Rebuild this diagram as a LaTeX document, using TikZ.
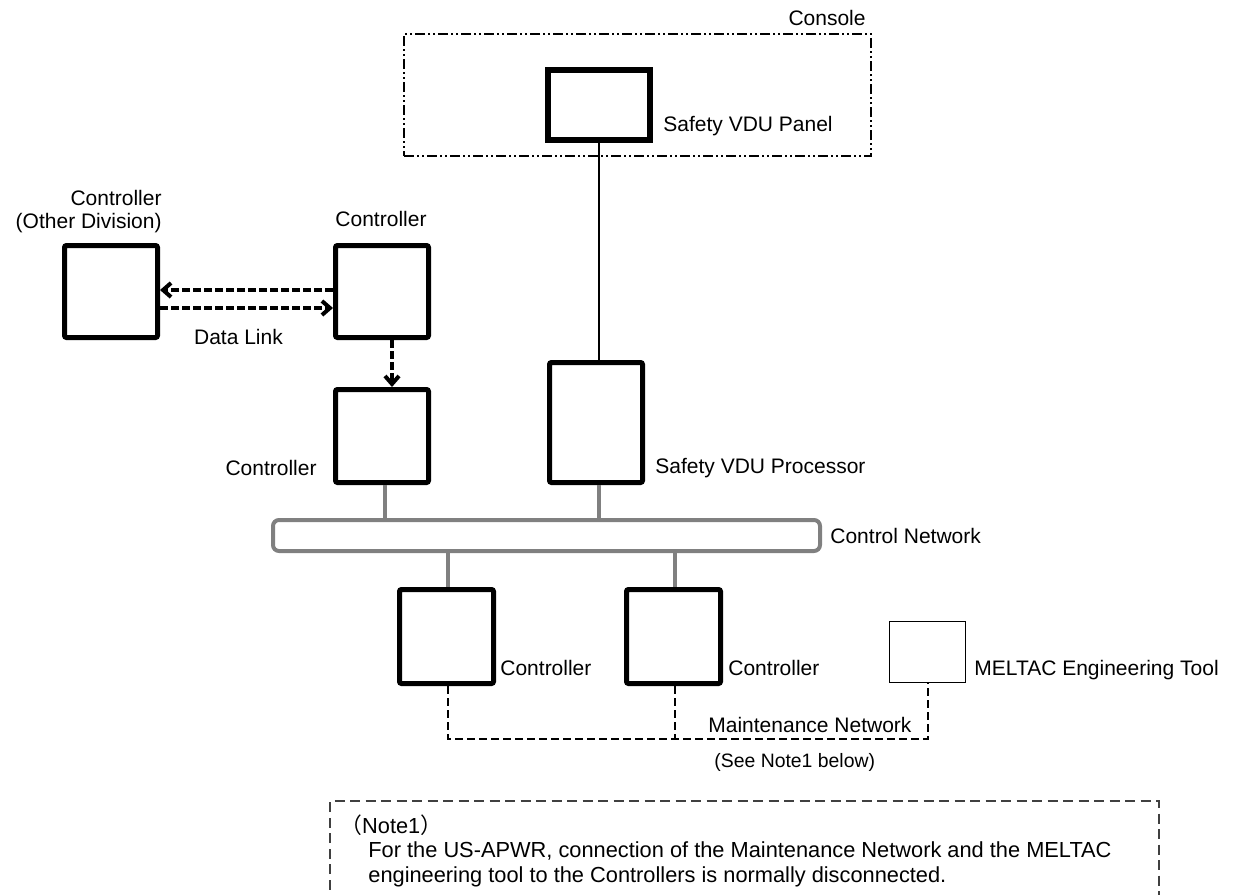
\documentclass[tikz,border=0pt]{standalone}
\usepackage{fontspec}
\setmainfont{Liberation Sans}
\newfontfamily\cjkfont{Noto Sans CJK JP}
\usetikzlibrary{arrows.meta}
\begin{document}
\begin{tikzpicture}[x=0.5pt,y=-0.5pt,
  box/.style={draw=black, line width=2.5pt, rounded corners=1pt, fill=white,
    minimum width=46.5pt, minimum height=46.5pt, inner sep=0pt},
  lbl/.style={inner sep=0pt, font=\fontsize{10.5}{11.5}\selectfont},
  notelbl/.style={inner sep=0pt, font=\fontsize{10.9}{12}\selectfont},
  smalllbl/.style={inner sep=0pt, font=\fontsize{9.7}{11}\selectfont},
  net/.style={draw=gray, line width=2pt},
  dl/.style={line width=2pt, dash pattern=on 4pt off 1.5pt,
    -{Straight Barb[length=4pt,width=7pt]}},
  mn/.style={line width=1pt, dash pattern=on 4pt off 2pt},
  consolebox/.style={draw=black, line width=1pt,
    dash pattern=on 5pt off 1.5pt on 1pt off 1.5pt on 1pt off 1.5pt,
    inner sep=0pt, minimum width=233.5pt, minimum height=61pt},
  notebox/.style={draw=black!75, line width=1pt, dash pattern=on 5pt off 2.75pt}
]
\useasboundingbox (0,0) rectangle (1239,895);

% Console and VDU panel
\node[consolebox] (console) at (637.5,95) {};
\node[lbl, anchor=east] (consolelbl) at (866,18) {Console};
\node[draw=black, line width=2pt, fill=white, inner sep=0pt,
      minimum width=52pt, minimum height=36pt] (panel) at (599,105) {};
\draw[line width=0.6pt] ([shift={(5,5)}]panel.north west) rectangle ([shift={(-5,-5)}]panel.south east);
\node[lbl, anchor=west] (panellbl) at (663,126) {Safety VDU Panel};

% Controllers top-left
\node[box, minimum height=46pt] (odiv) at (111,291.5) {};
\node[lbl, align=right, anchor=east] (odivlbl) at (162,211.5) {Controller\\(Other Division)};
\node[box, minimum height=46pt] (ctrlA) at (382,291.5) {};
\node[lbl] (ctrlAlbl) at (381,219) {Controller};
\node[lbl] (dllbl) at (238.5,337) {Data Link};

% Middle row
\node[box] (ctrlB) at (382,436) {};
\node[lbl, anchor=east] (ctrlBlbl) at (317,468) {Controller};
\node[box, minimum height=60pt] (vdup) at (596,422.5) {};
\node[lbl, anchor=west] (vduplbl) at (655,468) {Safety VDU Processor};

% Control network bus
\node[draw=gray, line width=2pt, rounded corners=3pt, inner sep=0pt,
      minimum width=273.5pt, minimum height=15.5pt] (bus) at (546.5,535.5) {};
\node[lbl, anchor=west] (buslbl) at (830,536) {Control Network};

% Lower row
\node[box, minimum width=47pt, minimum height=47pt] (ctrlC) at (446.5,636.5) {};
\node[lbl, anchor=west] (ctrlClbl) at (500,668) {Controller};
\node[box, minimum width=47pt, minimum height=47pt] (ctrlD) at (673.5,636.5) {};
\node[lbl, anchor=west] (ctrlDlbl) at (728,668) {Controller};
\node[draw=black, line width=0.65pt, fill=white, inner sep=0pt,
      minimum width=37.8pt, minimum height=30.4pt] (tool) at (927.5,652) {};
\node[lbl, anchor=west] (toollbl) at (974,670) {MELTAC Engineering Tool};

% Connections
\draw[line width=0.6pt] (panel.south) -- (panel.south |- vdup.north);
\coordinate (xB) at (385,0);
\coordinate (xP) at (599,0);
\draw[net] (xB |- ctrlB.south) -- (xB |- bus.north);
\draw[net] (xP |- vdup.south) -- (xP |- bus.north);
\coordinate (xL1) at (448,0);
\coordinate (xL2) at (675,0);
\draw[net] (xL1 |- bus.south) -- (xL1 |- ctrlC.north);
\draw[net] (xL2 |- bus.south) -- (xL2 |- ctrlD.north);

\coordinate (yA) at (0,290);
\coordinate (yB) at (0,308);
\coordinate (xC) at (392,0);
\draw[dl] (ctrlA.west |- yA) -- (odiv.east |- yA);
\draw[dl] (odiv.east |- yB) -- (ctrlA.west |- yB);
\draw[dl] (xC |- ctrlA.south) -- (xC |- ctrlB.north);

% Maintenance network
\coordinate (mb) at (0,739);
\draw[mn] (xL1 |- ctrlC.south) -- (xL1 |- mb) -- (tool.south |- mb) -- (tool.south);
\draw[mn] (xL2 |- ctrlD.south) -- (xL2 |- mb);
\node[lbl, anchor=west] (mnlbl) at (708,725) {Maintenance Network};
\node[smalllbl, anchor=west] (seelbl) at (714,762) {(See Note1 below)};

% Note
\coordinate (nbl) at (330,905);
\coordinate (ntl) at (330,801);
\coordinate (ntr) at (1159,801);
\coordinate (nbr) at (1159,905);
\draw[notebox] (nbl) -- (ntl) -- (ntr) -- (nbr);
\node[notelbl, anchor=west] (note1) at (340,825) {{\cjkfont （}Note1{\cjkfont ）}};
\node[notelbl, anchor=base west] (note2) at (368,857) {For the US-APWR, connection of the Maintenance Network and the MELTAC};
\node[notelbl, anchor=base west] (note3) at (368,882) {engineering tool to the Controllers is normally disconnected.};
\end{tikzpicture}
\end{document}
